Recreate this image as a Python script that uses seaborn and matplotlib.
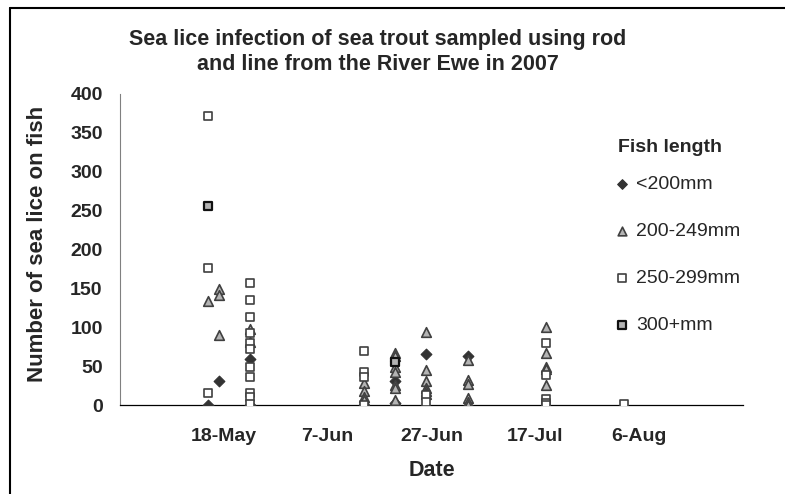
import pandas as pd
import numpy as np
import matplotlib
matplotlib.use("Agg")
import matplotlib.pyplot as plt
from matplotlib.lines import Line2D
import seaborn as sns

# values
lt200_dates = ["2007-05-15", "2007-05-17", "2007-05-23", "2007-05-23", "2007-06-20",
               "2007-06-20", "2007-06-26", "2007-07-04"]
lt200_lice = [0, 31, 60, 1, 31, 3, 66, 64]

l200_dates = (["2007-05-15"] + ["2007-05-17"] * 3 + ["2007-05-23"] * 2 + ["2007-06-14"] * 4
              + ["2007-06-20"] * 7 + ["2007-06-26"] * 6 + ["2007-07-04"] * 6 + ["2007-07-19"] * 5)
l200_lice = [134, 150, 142, 90, 98, 81, 29, 18, 11, 7,
             67, 63, 50, 43, 26, 22, 7,
             95, 46, 31, 22, 18, 15,
             59, 33, 28, 9, 4, 0,
             101, 67, 50, 47, 26]

l250_dates = (["2007-05-15"] * 3 + ["2007-05-23"] * 11 + ["2007-06-14"] * 4
              + ["2007-06-26"] * 2 + ["2007-07-19"] * 5 + ["2007-08-03"])
l250_lice = [372, 177, 16,
             157, 135, 114, 93, 80, 73, 50, 37, 16, 11, 2,
             70, 43, 37, 0,
             13, 4,
             80, 39, 8, 3, 0,
             2]

l300_dates = ["2007-05-15", "2007-06-20"]
l300_lice = [256, 56]

groups = ["<200mm", "200-249mm", "250-299mm", "300+mm"]

df = pd.concat([
    pd.DataFrame({"date": lt200_dates, "lice": lt200_lice, "length": groups[0]}),
    pd.DataFrame({"date": l200_dates, "lice": l200_lice, "length": groups[1]}),
    pd.DataFrame({"date": l250_dates, "lice": l250_lice, "length": groups[2]}),
    pd.DataFrame({"date": l300_dates, "lice": l300_lice, "length": groups[3]}),
])
df["date"] = pd.to_datetime(df["date"])

styles = {
    "<200mm": dict(marker="D", color="#333333", edgecolor="#333333", s=30, linewidth=0.8),
    "200-249mm": dict(marker="^", color="#b4b4b4", edgecolor="#404040", s=48, linewidth=1.2),
    "250-299mm": dict(marker="s", color="white", edgecolor="#404040", s=34, linewidth=1.2),
    "300+mm": dict(marker="s", color="#b4b4b4", edgecolor="#111111", s=34, linewidth=1.6),
}

sns.set_style("white")
plt.rcParams["font.family"] = ["Liberation Sans", "DejaVu Sans"]

fig = plt.figure(figsize=(7.85, 4.94), dpi=100)
ax = fig.add_axes([120 / 785, 1 - 405.5 / 494, 623 / 785, 311.5 / 494])

for g in groups:
    sub = df[df["length"] == g]
    sns.scatterplot(data=sub, x="date", y="lice", ax=ax, label=g, zorder=3, **styles[g])

start = pd.Timestamp("2007-04-28")
end = pd.Timestamp("2007-08-26")
ax.set_xlim(start, end)
ticks = pd.date_range(start, end, freq="20D")
ax.set_xticks(ticks)
ax.set_xticklabels([""] + [t.strftime("%-d-%b") for t in ticks[1:-1]] + [""],
                   fontsize=14, fontweight="bold")
ax.set_ylim(0, 400)
ax.set_yticks(np.arange(0, 401, 50))
ax.set_yticklabels([str(v) for v in range(0, 401, 50)], fontsize=14, fontweight="bold")

ax.tick_params(axis="both", direction="out", length=4.5, width=0.8, color="black")
ax.tick_params(axis="y", pad=8)
ax.tick_params(axis="x", pad=12)
for s in ["top", "right"]:
    ax.spines[s].set_visible(False)
ax.spines["left"].set_color("#808080")
ax.spines["bottom"].set_color("black")
ax.spines["left"].set_linewidth(0.8)
ax.spines["bottom"].set_linewidth(0.9)

ax.set_xlabel("")
ax.set_ylabel("")
fig.text(38 / 785, 1 - 244 / 494, "Number of sea lice on fish", rotation=90,
         ha="center", va="center", fontsize=16, fontweight="bold")
fig.text(432 / 785, 1 - 471 / 494, "Date", ha="center", va="center",
         fontsize=15.5, fontweight="bold")
fig.text(378 / 785, 1 - 52 / 494,
         "Sea lice infection of sea trout sampled using rod\nand line from the River Ewe in 2007",
         ha="center", va="center", fontsize=15.5, fontweight="bold", linespacing=1.2)

# legend: title drawn on its own so the gap to the first entry matches
fig.text(618 / 785, 1 - 147 / 494, "Fish length", ha="left", va="center",
         fontsize=14, fontweight="bold")
leg = ax.legend(loc="upper left", bbox_to_anchor=(600 / 785, 1 - 166 / 494),
                bbox_transform=fig.transFigure, frameon=False, fontsize=14,
                labelspacing=1.5, handletextpad=0.05, handlelength=1.3,
                markerscale=0.9, borderpad=0.0)

# chart border (left and top edges; the rest is cropped off)
for xs, ys in [([10, 10], [8, 494]), ([10, 785], [8, 8])]:
    fig.add_artist(Line2D([x / 785 for x in xs], [1 - y / 494 for y in ys],
                          color="black", linewidth=1.5))

fig.savefig("out.png", dpi=100)
